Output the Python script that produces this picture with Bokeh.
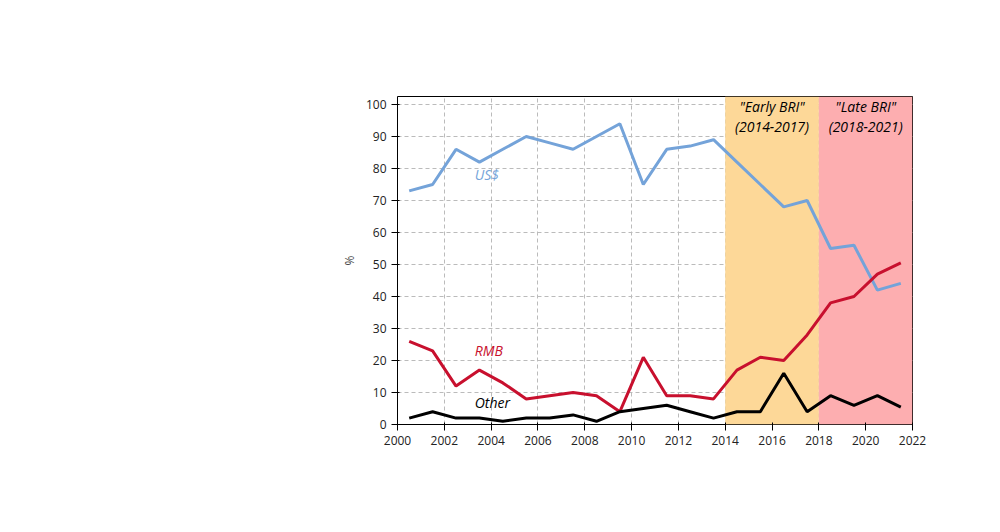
from bokeh.plotting import figure
from bokeh.models import Label, BoxAnnotation, FixedTicker
from bokeh.embed import file_html
from bokeh.resources import INLINE

years = [2000.5 + i for i in range(22)]
usd = [73, 75, 86, 82, 86, 90, 88, 86, 90, 94, 75, 86, 87, 89, 82, 75, 68, 70, 55, 56, 42, 44.1]
rmb = [26, 23, 12, 17, 13, 8, 9, 10, 9, 4, 21, 9, 9, 8, 17, 21, 20, 28, 38, 40, 47, 50.5]
other = [2, 4, 2, 2, 1, 2, 2, 3, 1, 4, 5, 6, 4, 2, 4, 4, 16, 4, 9, 6, 9, 5.4]
x_ticks = list(range(2000, 2023, 2))
y_ticks = list(range(0, 101, 10))

BLUE = "#74a3d9"; RED = "#c8102e"; BLACK = "#000000"
F = "Open Sans"

p = figure(width=984, height=500, x_range=(2000, 2022), y_range=(0, 102.5),
           output_backend="svg", toolbar_location=None,
           min_border_left=397, min_border_right=72, min_border_top=96, min_border_bottom=76)
p.add_layout(BoxAnnotation(left=2014, right=2018, fill_color="#fdd898", fill_alpha=1, line_alpha=0, level="underlay"))
p.add_layout(BoxAnnotation(left=2018, right=2022, fill_color="#fdaeb0", fill_alpha=1, line_alpha=0, level="underlay"))
p.xaxis.ticker = FixedTicker(ticks=x_ticks)
p.yaxis.ticker = FixedTicker(ticks=y_ticks)
for ax in (p.xaxis[0], p.yaxis[0]):
    ax.major_label_text_font = F
    ax.major_label_text_font_size = "12px"
    ax.major_label_text_color = "#222222"
    ax.minor_tick_line_color = None
    ax.axis_line_color = None
p.yaxis.axis_label = "%"
p.yaxis.axis_label_text_font = F
p.yaxis.axis_label_text_font_style = "normal"
p.yaxis.axis_label_text_font_size = "12px"
p.grid.grid_line_color = "#bbbbbb"
p.grid.grid_line_dash = "4 3"
p.outline_line_color = "black"
p.outline_line_width = 1

p.line(years, usd, color=BLUE, line_width=3)
p.line(years, rmb, color=RED, line_width=3)
p.line(years, other, color=BLACK, line_width=3)

XS = 515 / 22.0
YS = 328 / 102.5

def lab(x, y, t, color="black", style="italic", size="14px", units="data", align="left", bl="middle"):
    if units == "screen":
        x = 2000 + x / XS
        y = y / YS
    p.add_layout(Label(x=x, y=y, text=t, text_color=color,
                       text_font_style=style, text_font_size=size, text_align=align,
                       text_baseline=bl, text_font=F))

lab(2003.3, 78, "US$", BLUE)
lab(2003.3, 23, "RMB", RED)
lab(2003.3, 7, "Other", BLACK)
lab(2016, 99.5, "\"Early BRI\"", align="center")
lab(2016, 93, "(2014-2017)", align="center")
lab(2020, 99.5, "\"Late BRI\"", align="center")
lab(2020, 93, "(2018-2021)", align="center")
lab(530, 50.5 * YS, "50.5%", RED, "normal", units="screen")
lab(530, 44 * YS - 2, "44.1%", BLUE, "normal", units="screen")
lab(530, 5.4 * YS, "5.4%", "#222222", "normal", units="screen")

lab(255, 390, "Composition of China's loan portfolio by currency of denomination", "black", "bold", "16px", "screen", "center")
lab(255, 359, "Official loan sector commitments (in constant 2021 US$) to LICs and MICs", "#222222", "normal", "12px", "screen", "center")
lab(560, -45, "AidData, Gavekal Research/Macrobond", "black", "bold", "12px", "screen", "right")
for i, t in enumerate(["China is already making more loans to",
                       "emerging economies in renminbi rather",
                       "than US dollars"]):
    lab(-98, 237 - i * 24, t, "#555555", "normal", "15px", "screen", "right")

open("out.html", "w").write(file_html(p, INLINE))
